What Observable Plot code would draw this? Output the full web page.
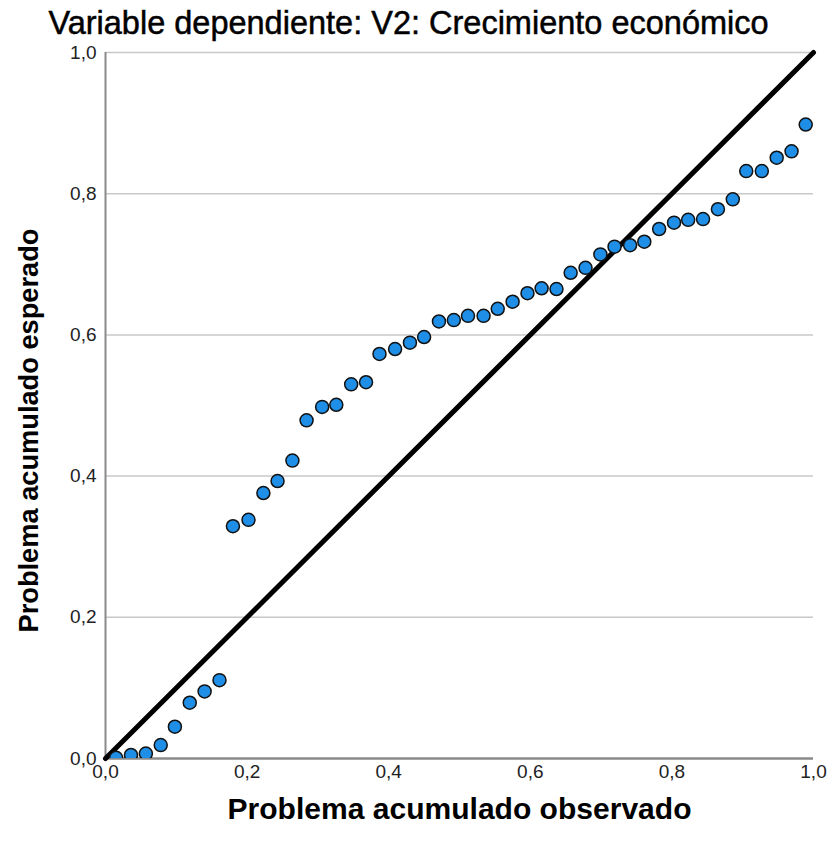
<!DOCTYPE html>
<html>
<head>
<meta charset="utf-8">
<script src="https://cdn.jsdelivr.net/npm/d3@7"></script>
<script src="https://cdn.jsdelivr.net/npm/@observablehq/plot@0.6"></script>
<style>
  body { margin: 0; background: #fff; }
  #wrap { position: relative; width: 831px; height: 850px; font-family: "Liberation Sans", Arial, sans-serif; }
  #title { position: absolute; left: 0; top: 7px; width: 817px; text-align: center; font-size: 32.5px; font-weight: normal; color: #000; white-space: nowrap; line-height: 1; -webkit-text-stroke: 0.5px #000; }
  #chart { position: absolute; left: 0; top: 0; }
</style>
</head>
<body>
<div id="wrap">
  <div id="chart"></div>
  <div id="title">Variable dependiente: V2: Crecimiento económico</div>
</div>
<script>
const titleText = "Variable dependiente: V2: Crecimiento económico";
const xLabel = "Problema acumulado observado";
const yLabel = "Problema acumulado esperado";

const observed = [0.015, 0.036, 0.057, 0.078, 0.098, 0.119, 0.140, 0.161, 0.180, 0.202, 0.223, 0.243, 0.264, 0.284, 0.306, 0.326, 0.347, 0.368, 0.387, 0.409, 0.430, 0.450, 0.471, 0.492, 0.512, 0.534, 0.554, 0.575, 0.596, 0.616, 0.637, 0.657, 0.678, 0.699, 0.719, 0.741, 0.761, 0.782, 0.803, 0.823, 0.844, 0.865, 0.886, 0.905, 0.927, 0.948, 0.969, 0.989];
const expected = [0.001, 0.005, 0.007, 0.019, 0.045, 0.079, 0.095, 0.111, 0.329, 0.338, 0.376, 0.393, 0.422, 0.479, 0.498, 0.501, 0.530, 0.533, 0.573, 0.580, 0.589, 0.597, 0.619, 0.621, 0.627, 0.627, 0.637, 0.647, 0.659, 0.666, 0.665, 0.688, 0.695, 0.714, 0.725, 0.727, 0.732, 0.750, 0.759, 0.763, 0.764, 0.778, 0.792, 0.832, 0.832, 0.851, 0.860, 0.898];

const tickValues = [0, 0.2, 0.4, 0.6, 0.8, 1.0];
const tickLabels = ["0,0", "0,2", "0,4", "0,6", "0,8", "1,0"];
const diagonal = [0, 1];

const points = observed.map((x, i) => ({x, y: expected[i]}));
const fmt = d => tickLabels[tickValues.findIndex(t => Math.abs(t - d) < 1e-9)];

const chart = Plot.plot({
  width: 831,
  height: 850,
  marginTop: 52,
  marginBottom: 92,
  marginLeft: 105,
  marginRight: 18,
  style: { fontFamily: "'Liberation Sans', Arial, sans-serif", background: "#fff", overflow: "visible" },
  x: { domain: [0, 1] },
  y: { domain: [0, 1] },
  marks: [
    Plot.gridY(tickValues.slice(1), { stroke: "#c8c8c8", strokeOpacity: 1, strokeWidth: 1.5 }),
    Plot.ruleX([0], { stroke: "#8a8a8a", strokeWidth: 2 }),
    Plot.ruleY([0], { stroke: "#8a8a8a", strokeWidth: 2.5 }),
    Plot.axisY(tickValues, { tickSize: 0, tickPadding: 9, tickFormat: fmt, fontSize: 19, fill: "#222", label: null }),
    Plot.axisX(tickValues, { tickSize: 0, tickPadding: 6, tickFormat: fmt, fontSize: 19, fill: "#222", label: null }),
    Plot.line(diagonal.map(d => ({x: d, y: d})), { x: "x", y: "y", stroke: "#000", strokeWidth: 5 }),
    Plot.dot(points, { x: "x", y: "y", r: 6.5, fill: "#1E8EE6", stroke: "#111", strokeWidth: 1.5, clip: true }),
    Plot.text([xLabel], { frameAnchor: "bottom", dy: 51, text: d => d, fontSize: 30, fontWeight: "bold", fill: "#000", textAnchor: "middle", lineAnchor: "middle", className: "xlab" }),
    Plot.text([yLabel], { frameAnchor: "left", dx: -76, dy: 25, rotate: -90, text: d => d, fontSize: 28, fontWeight: "bold", fill: "#000", textAnchor: "middle", lineAnchor: "middle", className: "ylab" })
  ]
});
document.getElementById("chart").appendChild(chart);
chart.querySelectorAll(".xlab text").forEach(t => { t.setAttribute("textLength", 464); t.setAttribute("lengthAdjust", "spacingAndGlyphs"); });
chart.querySelectorAll(".ylab text").forEach(t => { t.setAttribute("textLength", 404); t.setAttribute("lengthAdjust", "spacingAndGlyphs"); });
</script>
</body>
</html>
